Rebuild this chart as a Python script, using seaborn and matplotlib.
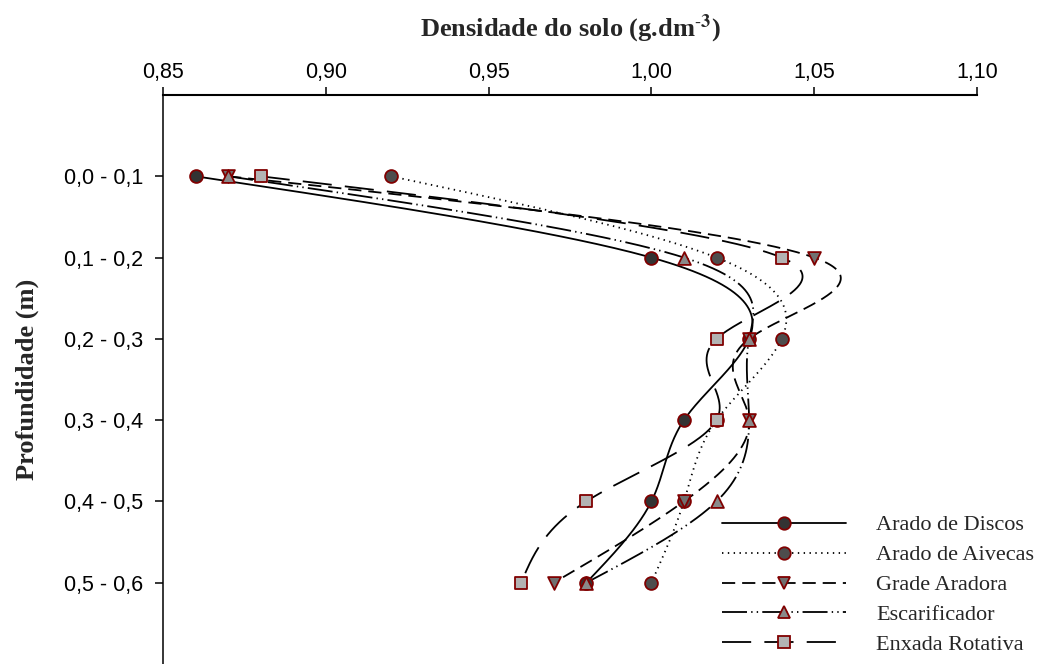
import numpy as np
import matplotlib
matplotlib.use("Agg")
from matplotlib import pyplot as plt
from matplotlib.lines import Line2D
import seaborn as sns

# valores (densidade do solo por camada)
camadas = ["0,0 - 0,1", "0,1 - 0,2", "0,2 - 0,3", "0,3 - 0,4", "0,4 - 0,5", "0,5 - 0,6"]
arado_discos = [0.86, 1.00, 1.03, 1.01, 1.00, 0.98]
arado_aivecas = [0.92, 1.02, 1.04, 1.02, 1.01, 1.00]
grade_aradora = [0.87, 1.05, 1.03, 1.03, 1.01, 0.97]
escarificador = [0.87, 1.01, 1.03, 1.03, 1.02, 0.98]
enxada_rotativa = [0.88, 1.04, 1.02, 1.02, 0.98, 0.96]

nomes = ["Arado de Discos", "Arado de Aivecas", "Grade Aradora", "Escarificador", "Enxada Rotativa"]
series = [arado_discos, arado_aivecas, grade_aradora, escarificador, enxada_rotativa]

marcadores = ["o", "o", "v", "^", "s"]
preenchimento = ["#333333", "#4d4d4d", "#707070", "#8a8a8a", "#b3b3b3"]
borda = "#800000"
estilos = ["-", (0, (1, 3.2)), (0, (9.5, 5)), (0, (18, 3, 1, 3, 1, 3)), (0, (21, 9.5))]


def spline_natural(xv, n=60):
    # curva suave x(y) como no SigmaPlot (spline cubica natural, passo 1)
    xv = np.asarray(xv, dtype=float)
    k = len(xv)
    A = np.zeros((k, k))
    b = np.zeros(k)
    A[0, 0] = 1
    A[-1, -1] = 1
    for i in range(1, k - 1):
        A[i, i - 1], A[i, i], A[i, i + 1] = 1, 4, 1
        b[i] = 6 * (xv[i - 1] - 2 * xv[i] + xv[i + 1])
    M = np.linalg.solve(A, b)
    xs, ys = [], []
    for i in range(k - 1):
        t = np.linspace(0, 1, n, endpoint=(i == k - 2))
        s = ((1 - t) * xv[i] + t * xv[i + 1]
             + ((1 - t) ** 3 - (1 - t)) * M[i] / 6
             + (t ** 3 - t) * M[i + 1] / 6)
        xs.append(s)
        ys.append(i + t)
    return np.concatenate(xs), np.concatenate(ys)


sns.set_style("ticks")
plt.rcParams["font.family"] = ["Liberation Serif", "DejaVu Serif"]
plt.rcParams["mathtext.fontset"] = "stix"
plt.rcParams["lines.scale_dashes"] = False

fig = plt.figure(figsize=(10.48, 6.64), dpi=100)
ax = fig.add_axes([163 / 1048, 0, 814 / 1048, 569 / 664])

pos = np.arange(len(camadas))

# linhas suaves
for vals, ls in zip(series, estilos):
    xs, ys = spline_natural(vals)
    sns.lineplot(x=xs, y=ys, sort=False, estimator=None, color="black",
                 linestyle=ls, linewidth=1.3, ax=ax, zorder=2)

# marcadores
for vals, mk, fc in zip(series, marcadores, preenchimento):
    sns.scatterplot(x=vals, y=pos, marker=mk, s=85, color=fc, edgecolor=borda,
                    linewidth=1.3, ax=ax, zorder=3)

ax.set_xlim(0.85, 1.10)
ax.set_ylim(6, -1)
ax.set_xticks([0.85, 0.90, 0.95, 1.00, 1.05, 1.10])
ax.set_xticklabels(["0,85", "0,90", "0,95", "1,00", "1,05", "1,10"],
                   fontfamily="Liberation Sans", fontsize=15.5)
ax.set_yticks(pos)
ax.set_yticklabels(camadas, fontfamily="Liberation Sans", fontsize=15.5)

ax.xaxis.tick_top()
ax.xaxis.set_label_position("top")
ax.tick_params(axis="x", direction="out", length=5.8, width=1.1, pad=3, colors="black")
ax.tick_params(axis="y", direction="out", length=5.5, width=1.1, pad=9, colors="black")
for lado in ["right", "bottom"]:
    ax.spines[lado].set_visible(False)
ax.spines["top"].set_linewidth(1.5)
ax.spines["left"].set_linewidth(1.1)
ax.spines["top"].set_color("black")
ax.spines["left"].set_color("black")

ax.set_xlabel(r"Densidade do solo (g.dm$^{\mathbf{\text{-}3}}$)", fontsize=19,
              fontweight="bold", labelpad=18)
ax.set_ylabel("Profundidade (m)", fontsize=19, fontweight="bold", labelpad=18)

alcas = [Line2D([], [], color="black", linestyle=ls, linewidth=1.3, marker=mk,
                markersize=9, markerfacecolor=fc, markeredgecolor=borda,
                markeredgewidth=1.3)
         for ls, mk, fc in zip(estilos, marcadores, preenchimento)]
fig.legend(alcas, nomes, loc="center left", bbox_to_anchor=(722 / 1048, 1 - 585 / 664),
           frameon=False, fontsize=16, handlelength=5.6, handletextpad=1.35,
           labelspacing=0.42, borderpad=0, borderaxespad=0, numpoints=1)

fig.savefig("out.png", dpi=100)
